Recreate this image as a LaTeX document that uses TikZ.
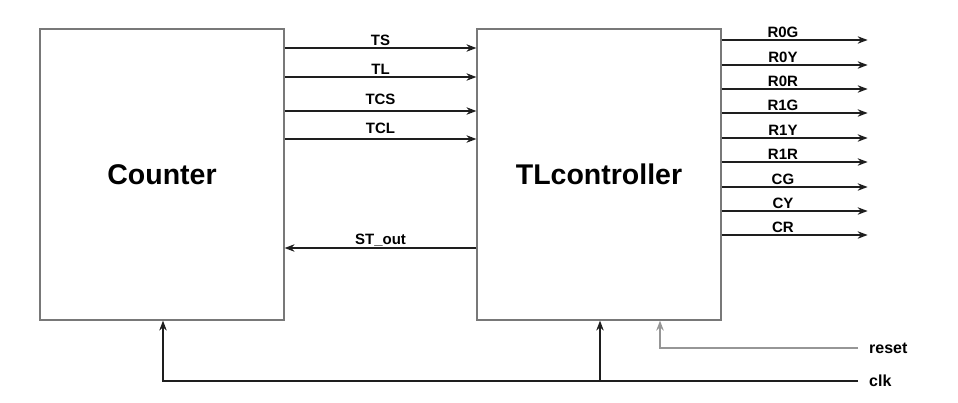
\documentclass[tikz,border=0pt]{standalone}
\usepackage{fontspec}
\setmainfont{Liberation Sans}
\usetikzlibrary{positioning,arrows.meta}
\definecolor{boxGray}{RGB}{120,120,120}
\definecolor{wireBlack}{RGB}{30,30,30}
\definecolor{wireGray}{RGB}{150,150,150}

\begin{document}
\begin{tikzpicture}[x=1pt, y=-1pt,
    block/.style={rectangle, draw=boxGray, line width=1.2pt, minimum width=244pt, minimum height=291pt, inner sep=0pt, font=\bfseries\fontsize{28.5}{32}\selectfont},
    sig/.style={-{Stealth[length=10pt, width=7.5pt]}, line width=1.3pt, draw=wireBlack},
    siglabel/.style={above, midway, inner sep=1.5pt, font=\bfseries\fontsize{15}{17}\selectfont},
    portlabel/.style={right, inner sep=0pt, xshift=11pt, font=\bfseries\fontsize{16}{18}\selectfont}
]
\useasboundingbox (0,0) rectangle (958,402);

% Blocks
\node[block] (counter) at (162,174.5) {Counter};
\node[block] (tlc) at (599,174.5) {TLcontroller};

% Counter to TLcontroller
\draw[sig] (counter.east |- 0,48) -- (tlc.west |- 0,48) node[siglabel] {TS};
\draw[sig] (counter.east |- 0,77) -- (tlc.west |- 0,77) node[siglabel] {TL};
\draw[sig] (counter.east |- 0,111) -- (tlc.west |- 0,111) node[siglabel, yshift=4pt] {TCS};
\draw[sig] (counter.east |- 0,139) -- (tlc.west |- 0,139) node[siglabel, yshift=3pt] {TCL};

% TLcontroller back to Counter
\draw[sig] (tlc.west |- 0,248) -- (counter.east |- 0,248) node[siglabel] {ST\_out};

% Light outputs
\foreach \lab/\yy in {R0G/40, R0Y/65, R0R/89, R1G/113, R1Y/138, R1R/162, CG/187, CY/211, CR/235}
  \draw[sig] (tlc.east |- 0,\yy) -- ++(146,0) node[siglabel, pos=0.42] {\lab};

% Clock and reset
\coordinate (clk) at (858,381);
\coordinate (reset) at (858,348);
\node[portlabel] (clklabel) at (clk) {clk};
\node[portlabel] (resetlabel) at (reset) {reset};
\draw[line width=1.3pt, wireBlack] (clk) -- (counter.south |- clk);
\draw[sig] ([xshift=1pt]counter.south |- clk) -- ([xshift=1pt]counter.south);
\draw[sig] ([xshift=1pt]tlc.south |- clk) -- ([xshift=1pt]tlc.south);
\draw[sig, draw=wireGray, line width=2pt] (reset) -| ([xshift=61pt]tlc.south);

\end{tikzpicture}
\end{document}
